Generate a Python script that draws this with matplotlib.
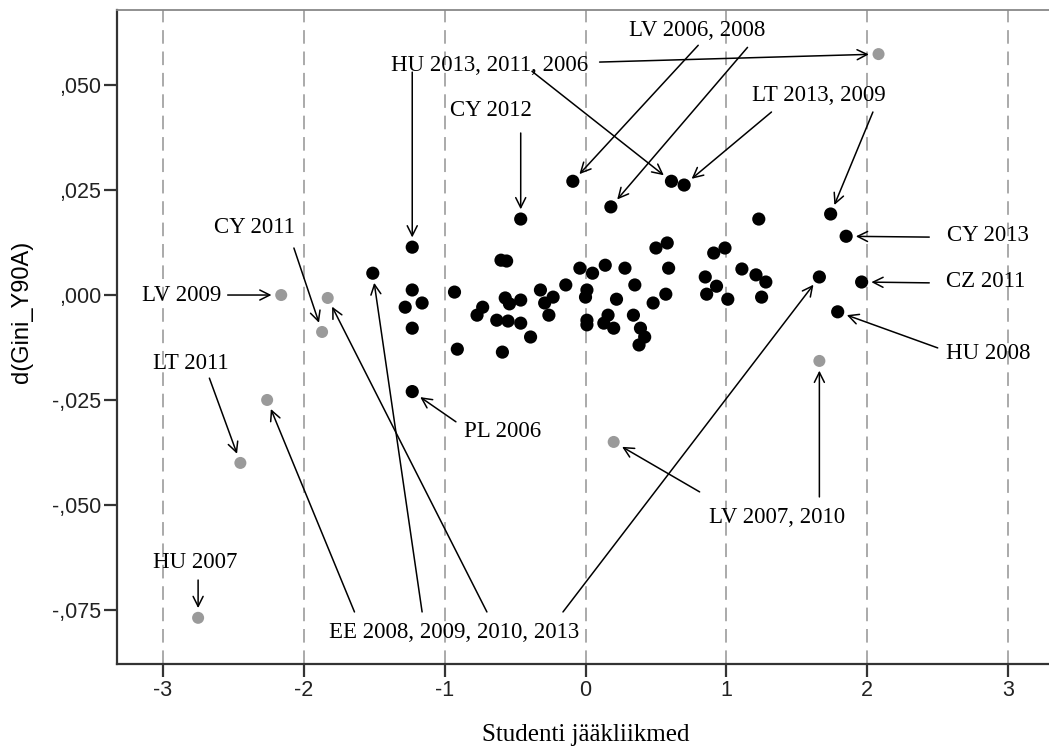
import matplotlib
matplotlib.use("Agg")
import matplotlib.pyplot as plt
from matplotlib.ticker import FuncFormatter

plt.rcParams["axes.unicode_minus"] = False

# ── Data ──────────────────────────────────────────────────────────────────────
black_x = [-1.23, -1.51, -1.23, -1.28, -1.16, -1.23, -1.23, -0.93, -0.91, -0.46,
           -0.60, -0.56, -0.73, -0.77, -0.63, -0.55, -0.46, -0.57, -0.54, -0.46,
           -0.39, -0.59, -0.32, -0.29, -0.23, -0.26, -0.14, -0.09, -0.04, 0.05,
           0.14, 0.28, 0.35, 0.01, 0.00, 0.01, 0.01, 0.22, 0.13, 0.20,
           0.16, 0.34, 0.39, 0.42, 0.38, 0.18, 0.58, 0.50, 0.59, 0.57,
           0.48, 0.61, 0.70, 1.23, 0.91, 0.99, 0.85, 0.93, 0.86, 1.01,
           1.11, 1.21, 1.28, 1.25, 1.74, 1.85, 1.66, 1.96, 1.79]
black_y = [0.0114, 0.0052, 0.0012, -0.0029, -0.0019, -0.0079, -0.0230, 0.0007, -0.0129, 0.0181,
           0.0083, 0.0081, -0.0029, -0.0048, -0.0060, -0.0062, -0.0067, -0.0007, -0.0021, -0.0012,
           -0.0100, -0.0136, 0.0012, -0.0019, -0.0005, -0.0048, 0.0024, 0.0271, 0.0064, 0.0052,
           0.0071, 0.0064, 0.0024, 0.0012, -0.0005, -0.0060, -0.0071, -0.0010, -0.0067, -0.0079,
           -0.0048, -0.0048, -0.0079, -0.0100, -0.0119, 0.0210, 0.0124, 0.0112, 0.0064, 0.0002,
           -0.0019, 0.0271, 0.0262, 0.0181, 0.0100, 0.0112, 0.0043, 0.0021, 0.0002, -0.0010,
           0.0062, 0.0048, 0.0031, -0.0005, 0.0193, 0.0140, 0.0043, 0.0031, -0.0040]

grey_x = [-2.75, -2.45, -2.26, -2.16, -1.87, -1.83, 2.08, 1.66, 0.20]
grey_y = [-0.0769, -0.0400, -0.0250, 0.0000, -0.0088, -0.0007, 0.0574, -0.0157, -0.0350]

x_ticks = [-3, -2, -1, 0, 1, 2, 3]
y_ticks = [-0.075, -0.050, -0.025, 0.000, 0.025, 0.050]

# labels: text, where the text sits, and arrows (start x, start y, series, point index)
labels = ["HU 2013, 2011, 2006", "LV 2006, 2008", "LT 2013, 2009", "CY 2012",
          "CY 2013", "CZ 2011", "HU 2008", "CY 2011", "LV 2009", "LT 2011",
          "HU 2007", "PL 2006", "LV 2007, 2010", "EE 2008, 2009, 2010, 2013"]
label_pos = [(-0.68, 0.0548), (0.79, 0.0631), (1.66, 0.0476), (-0.67, 0.0440),
             (2.86, 0.0143), (2.84, 0.0033), (2.86, -0.0140), (-2.35, 0.0160),
             (-2.87, 0.0000), (-2.80, -0.0162), (-2.77, -0.0638), (-0.59, -0.0326),
             (1.36, -0.0531), (-0.93, -0.0805)]
label_arrows = [
    [(0.10, 0.0555, "g", 6), (-1.23, 0.0531, "b", 0), (-0.38, 0.0533, "b", 51)],
    [(0.80, 0.0595, "b", 27), (1.15, 0.0590, "b", 45)],
    [(1.32, 0.0436, "b", 52), (2.04, 0.0436, "b", 64)],
    [(-0.46, 0.0386, "b", 9)],
    [(2.44, 0.0138, "b", 65)],
    [(2.44, 0.0029, "b", 67)],
    [(2.50, -0.0126, "b", 68)],
    [(-2.07, 0.0112, "g", 4)],
    [(-2.54, 0.0000, "g", 3)],
    [(-2.67, -0.0198, "g", 1)],
    [(-2.75, -0.0679, "g", 0)],
    [(-0.92, -0.0302, "b", 6)],
    [(1.66, -0.0481, "g", 7), (0.81, -0.0469, "g", 8)],
    [(-1.64, -0.0755, "g", 2), (-1.16, -0.0755, "b", 1),
     (-0.70, -0.0755, "g", 5), (-0.16, -0.0755, "b", 66)],
]

# ── Plot ──────────────────────────────────────────────────────────────────────
SERIF = "Liberation Serif"
SANS = "Liberation Sans"

fig = plt.figure(figsize=(10.49, 7.53), dpi=100)
ax = fig.add_axes([0.1115, 0.1182, 0.8885, 0.8685])

for xv in x_ticks:
    ax.axvline(xv, color="#aaaaaa", lw=1.4, dashes=(7, 4), zorder=1)

ax.scatter(grey_x, grey_y, s=75, color="#9a9a9a", edgecolors="none", zorder=3)
ax.scatter(black_x, black_y, s=90, color="black", edgecolors="none", zorder=3)

points = {"b": (black_x, black_y), "g": (grey_x, grey_y)}
for text, (tx, ty), arrows in zip(labels, label_pos, label_arrows):
    ax.text(tx, ty, text, ha="center", va="center", fontsize=16.5,
            family=SERIF, zorder=4)
    for sx, sy, series, i in arrows:
        px, py = points[series][0][i], points[series][1][i]
        ax.annotate("", xy=(px, py), xytext=(sx, sy),
                    arrowprops=dict(arrowstyle="->", color="black", lw=1.1,
                                    shrinkA=0, shrinkB=7,
                                    mutation_scale=18), zorder=4)

ax.set_xlim(-3.326, 3.29)
ax.set_ylim(-0.0879, 0.0679)
ax.set_xticks(x_ticks)
ax.set_yticks(y_ticks)
ax.yaxis.set_major_formatter(FuncFormatter(lambda v, p: f"{v:.3f}".replace("0.", ",")))

for side in ["left", "bottom"]:
    ax.spines[side].set_color("#333333")
    ax.spines[side].set_linewidth(1.6)
ax.spines["top"].set_color("#888888")
ax.spines["top"].set_linewidth(1.3)
ax.spines["right"].set_visible(False)

ax.tick_params(axis="both", length=9.5, width=1.6, color="#333333",
               labelsize=15.5, pad=2)
for lab in ax.get_xticklabels() + ax.get_yticklabels():
    lab.set_family(SANS)
    lab.set_color("#222222")

fig.text(586 / 1049, 1 - 735 / 753, "Studenti jääkliikmed", ha="center",
         va="center", fontsize=18, family=SERIF)
fig.text(22 / 1049, 1 - 312 / 753, "d(Gini_Y90A)", ha="center", va="center",
         rotation=90, fontsize=17, family=SANS)

fig.savefig("out.png", dpi=100)
